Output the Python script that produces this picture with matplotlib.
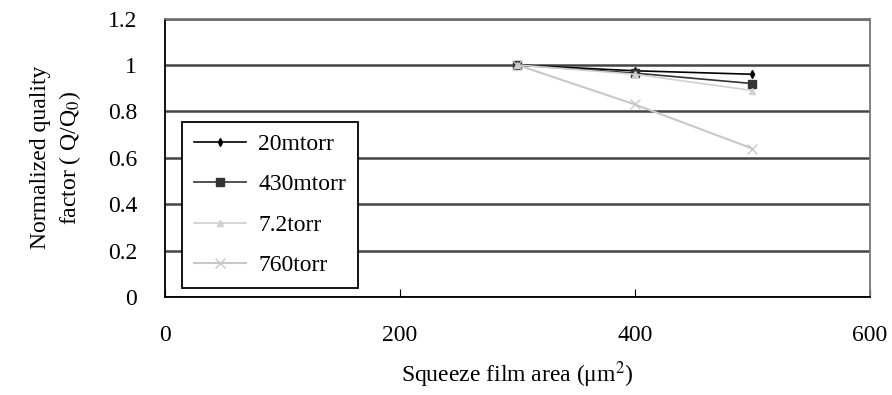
import matplotlib
matplotlib.use("Agg")
import matplotlib.pyplot as plt

area = [300, 400, 500]
q_20mtorr = [1.0, 0.975, 0.96]
q_430mtorr = [1.0, 0.965, 0.92]
q_72torr = [1.0, 0.96, 0.89]
q_760torr = [1.0, 0.83, 0.64]

plt.rcParams['font.family'] = ['Liberation Serif', 'DejaVu Serif']
plt.rcParams['mathtext.fontset'] = 'stix'

fig = plt.figure(figsize=(8.92, 3.95), dpi=100)
ax = fig.add_axes([0.185, 0.248, 0.79, 0.705])

ax.plot(area, q_20mtorr, color="black", marker="d", markersize=4, lw=1.2, label="20mtorr")
ax.plot(area, q_430mtorr, color="#333333", marker="s", markersize=6, lw=1.2, label="430mtorr")
ax.plot(area, q_72torr, color="#d0d0d0", marker="^", markersize=4, lw=1.2, label="7.2torr")
ax.plot(area, q_760torr, color="#c8c8c8", marker="x", markersize=7, lw=1.5, label="760torr")

ax.set_xlim(0, 600)
ax.set_ylim(0, 1.2)
ax.set_xticks([0, 200, 400, 600])
ax.set_yticks([0, 0.2, 0.4, 0.6, 0.8, 1.0, 1.2])
ax.set_yticklabels(["0", "0.2", "0.4", "0.6", "0.8", "1", "1.2"])
ax.yaxis.grid(True, color="#444444", lw=1.8)
ax.set_axisbelow(True)
ax.tick_params(axis="x", direction="in", length=6, pad=20, labelsize=17)
ax.tick_params(axis="y", direction="in", length=0, pad=20, labelsize=17)
for s in ["left", "bottom"]:
    ax.spines[s].set_linewidth(1.3)
for s in ["top", "right"]:
    ax.spines[s].set_color("#777777")
    ax.spines[s].set_linewidth(1.3)

ax.set_xlabel("Squeeze film area (μm$^2$)", fontsize=17, labelpad=10)
ax.set_ylabel("Normalized quality\nfactor ( Q/Q$_0$)", fontsize=17, labelpad=18, linespacing=1.3)

leg = ax.legend(loc="lower left", bbox_to_anchor=(0.008, -0.01), fontsize=17, frameon=True,
                fancybox=False, edgecolor="black", framealpha=1, handlelength=2.2,
                handletextpad=0.5, labelspacing=0.8, borderpad=0.5)
leg.get_frame().set_linewidth(1.3)

fig.savefig("out.png", dpi=100)
